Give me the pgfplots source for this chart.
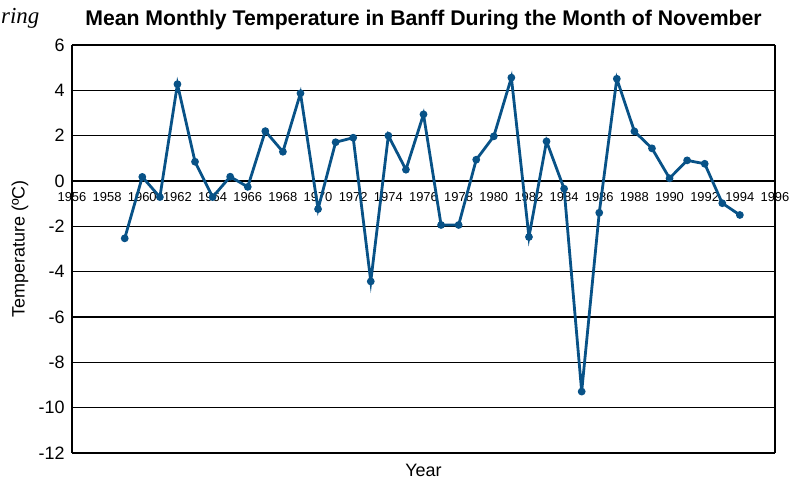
\documentclass[border=0pt]{standalone}
\usepackage{fontspec}
\setmainfont{Liberation Sans}
\newfontfamily\seriffont{Liberation Serif}
\usepackage{pgfplots}
\pgfplotsset{compat=1.18}
\definecolor{tempblue}{RGB}{8,82,135}
\begin{document}
\begin{tikzpicture}
\begin{axis}[
  scale only axis, width=703bp, height=408bp,
  xmin=1956, xmax=1996, ymin=-12, ymax=6,
  axis x line=middle, axis y line=box,
  hide obscured x ticks=false,
  axis line style={-, black, line width=1.2bp},
  xtick={1956,1958,...,1996}, ytick={-12,-10,...,6},
  ymajorgrids, major grid style={black, line width=1.3bp},
  major tick length=0pt,
  /pgf/number format/assume math mode=true,
  /pgf/number format/set thousands separator={},
  xticklabel style={font=\fontsize{13}{15}\selectfont, yshift=-8bp},
  yticklabel style={font=\fontsize{18}{20}\selectfont, xshift=-4bp},
  title={Mean Monthly Temperature in Banff During the Month of November},
  title style={font=\bfseries\fontsize{21.3}{24}\selectfont, at={(axis description cs:0.5,1.047)}, anchor=center},
  xlabel={Year},
  xlabel style={font=\fontsize{18}{20}\selectfont, at={(axis description cs:0.5,-0.042)}, anchor=center},
  ylabel={Temperature (ºC)},
  ylabel style={font=\fontsize{18}{20}\selectfont, at={(axis description cs:-0.074,0.5)}, rotate=0, anchor=center},
  clip=false,
]
\addplot[color=tempblue, line width=2.8bp, mark=*, mark size=2.4bp] coordinates {
(1959,-2.53) (1960,0.18) (1961,-0.71) (1962,4.27) (1963,0.85) (1964,-0.71)
(1965,0.19) (1966,-0.26) (1967,2.2) (1968,1.29) (1969,3.87) (1970,-1.24)
(1971,1.71) (1972,1.91) (1973,-4.43) (1974,2.0) (1975,0.5) (1976,2.94)
(1977,-1.94) (1978,-1.94) (1979,0.94) (1980,1.97) (1981,4.56) (1982,-2.47)
(1983,1.75) (1984,-0.34) (1985,-9.29) (1986,-1.4) (1987,4.51) (1988,2.19)
(1989,1.44) (1990,0.12) (1991,0.91) (1992,0.76) (1993,-0.98) (1994,-1.5)
};
\node[anchor=west, font=\seriffont\itshape\fontsize{23}{25}\selectfont, inner sep=0pt] at (axis description cs:-0.101,1.066) {ring};
\end{axis}
\pgfresetboundingbox
\path[use as bounding box] (-72bp,-29bp) rectangle (727bp,453bp);
\end{tikzpicture}
\end{document}
